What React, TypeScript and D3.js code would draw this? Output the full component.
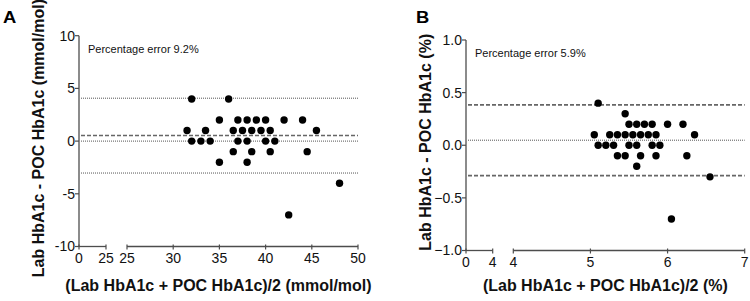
import React from "react";
import * as d3 from "d3";

// Panel A data (mmol/mol)
const aMean = [31.5, 32, 32, 33, 33.5, 34, 35, 35, 36, 36.5, 36.5, 37, 37, 37.5, 38, 38, 38, 38.5, 38.5, 39, 39.5, 40, 40, 40.5, 40.5, 41, 42, 42.5, 44, 44.5, 45.5, 48];
const aDiff = [1, 4, 0, 0, 1, 0, 2, -2, 4, 1, -1, 2, 0, 1, 2, 0, -2, 1, -1, 2, 1, 2, 0, 1, -1, 0, 2, -7, 2, -1, 1, -4];
const aLines = [4.07, 0, -3.03];
const aMeanLine = 0.53;
const aYTicks = [10, 5, 0, -5, -10];
const aXTicks1 = [0, 25];
const aXTicks2 = [25, 30, 35, 40, 45, 50];

// Panel B data (%)
const bMean = [5.1, 5.45, 5.5, 5.6, 5.7, 5.8, 6.0, 6.2, 5.05, 5.25, 5.35, 5.45, 5.55, 5.65, 5.75, 5.85, 6.35, 5.1, 5.2, 5.3, 5.5, 5.6, 5.8, 5.9, 5.35, 5.45, 5.65, 5.85, 6.25, 5.6, 6.55, 6.05];
const bDiff = [0.4, 0.3, 0.2, 0.2, 0.2, 0.2, 0.2, 0.2, 0.1, 0.1, 0.1, 0.1, 0.1, 0.1, 0.1, 0.1, 0.1, 0, 0, 0, 0, 0, 0, 0, -0.1, -0.1, -0.1, -0.1, -0.1, -0.2, -0.3, -0.7];
const bLimits = [0.384, -0.289];
const bMeanLine = 0.048;
const bYTicks = [1.0, 0.5, 0.0, -0.5, -1.0];
const bXTicks1 = [0, 4];
const bXTicks2 = [4, 5, 6, 7];

const FONT = "'Liberation Sans', Arial, Helvetica, sans-serif";
const AX = "#4d4d4d";

type PanelProps = {
  label: string;
  labelX: number;
  x1: d3.ScaleLinear<number, number>;
  x2: d3.ScaleLinear<number, number>;
  y: d3.ScaleLinear<number, number>;
  xt1: number[];
  xt2: number[];
  yt: number[];
  yFmt: (v: number) => string;
  xs: number[];
  ys: number[];
  dotted: number[];
  dashed: number[];
  note: string;
  noteY: number;
  yTitle: string;
  yTitleX: number;
  xTitle: string;
};

function Panel(p: PanelProps) {
  const axisX = p.x1.range()[0];
  const [yBot, yTop] = p.y.range();
  const lineX0 = axisX + 2;
  const lineX1 = p.x2.range()[1];
  const cy = (yBot + yTop) / 2;
  const xTitleX = (p.x1.range()[0] + p.x2.range()[1]) / 2;
  return (
    <g>
      <text transform={`translate(${p.labelX},23) scale(1.15,1)`} fontFamily={FONT} fontWeight="bold" fontSize={16} fill="#000">{p.label}</text>
      {/* reference lines */}
      {p.dotted.map((v, i) => (
        <line key={"dt" + i} x1={lineX0} x2={lineX1} y1={p.y(v)} y2={p.y(v)} stroke="#555" strokeWidth={1} strokeDasharray="1,1" />
      ))}
      {p.dashed.map((v, i) => (
        <line key={"ds" + i} x1={lineX0} x2={lineX1} y1={p.y(v)} y2={p.y(v)} stroke="#666" strokeWidth={1.6} strokeDasharray="4,2" />
      ))}
      {/* y axis */}
      <line x1={axisX} x2={axisX} y1={yTop} y2={yBot} stroke={AX} strokeWidth={1.3} />
      {p.yt.map((v, i) => (
        <g key={"yt" + i}>
          <line x1={axisX - 4} x2={axisX} y1={p.y(v)} y2={p.y(v)} stroke={AX} strokeWidth={1.2} />
          <text x={axisX - 4} y={p.y(v)} dy="0.35em" textAnchor="end" fontFamily={FONT} fontSize={14} fill="#111">{p.yFmt(v)}</text>
        </g>
      ))}
      {/* x axis segment 1 */}
      <line x1={p.x1.range()[0]} x2={p.x1.range()[1]} y1={yBot} y2={yBot} stroke={AX} strokeWidth={1.3} />
      {p.xt1.map((v, i) => (
        <g key={"xa" + i}>
          <line x1={p.x1(v)} x2={p.x1(v)} y1={yBot - 2} y2={yBot + 3} stroke={AX} strokeWidth={1.2} />
          <text x={p.x1(v)} y={yBot + 16} textAnchor="middle" fontFamily={FONT} fontSize={14} fill="#111">{v}</text>
        </g>
      ))}
      {/* x axis segment 2 */}
      <line x1={p.x2.range()[0]} x2={p.x2.range()[1]} y1={yBot} y2={yBot} stroke={AX} strokeWidth={1.3} />
      {p.xt2.map((v, i) => (
        <g key={"xb" + i}>
          <line x1={p.x2(v)} x2={p.x2(v)} y1={yBot - 2} y2={yBot + 3} stroke={AX} strokeWidth={1.2} />
          <text x={p.x2(v)} y={yBot + 16} textAnchor="middle" fontFamily={FONT} fontSize={14} fill="#111">{v}</text>
        </g>
      ))}
      {/* points */}
      {p.xs.map((v, i) => (
        <circle key={"p" + i} cx={p.x2(v)} cy={p.y(p.ys[i])} r={3.7} fill="#000" />
      ))}
      <text x={axisX + 9} y={p.noteY} fontFamily={FONT} fontSize={11} fill="#111">{p.note}</text>
      <text transform={`translate(${p.yTitleX},${cy - 3}) rotate(-90)`} textAnchor="middle" fontFamily={FONT} fontWeight="bold" fontSize={16} fill="#111">{p.yTitle}</text>
      <text x={xTitleX} y={291} textAnchor="middle" fontFamily={FONT} fontWeight="bold" fontSize={16} fill="#111">{p.xTitle}</text>
    </g>
  );
}

export default function App() {
  const xA1 = d3.scaleLinear().domain([0, 25]).range([79, 106]);
  const xA2 = d3.scaleLinear().domain([25, 50]).range([127, 358]);
  const yA = d3.scaleLinear().domain([-10, 10]).range([246.5, 35.7]);
  const xB1 = d3.scaleLinear().domain([0, 4]).range([466, 492.7]);
  const xB2 = d3.scaleLinear().domain([4, 7]).range([513.3, 744.7]);
  const yB = d3.scaleLinear().domain([-1, 1]).range([250.5, 40]);
  return (
    <svg width={750} height={301} style={{ position: "absolute", left: 0, top: 0, background: "#fff" }}>
      <rect width={750} height={301} fill="#fff" />
      <Panel label="A" labelX={3} x1={xA1} x2={xA2} y={yA} xt1={aXTicks1} xt2={aXTicks2} yt={aYTicks}
        yFmt={(v) => String(v)} xs={aMean} ys={aDiff} dotted={aLines} dashed={[aMeanLine]}
        note="Percentage error 9.2%" noteY={53} yTitle="Lab HbA1c - POC HbA1c (mmol/mol)" yTitleX={44}
        xTitle="(Lab HbA1c + POC HbA1c)/2 (mmol/mol)" />
      <Panel label="B" labelX={416} x1={xB1} x2={xB2} y={yB} xt1={bXTicks1} xt2={bXTicks2} yt={bYTicks}
        yFmt={(v) => d3.format(".1f")(v)} xs={bMean} ys={bDiff} dotted={[bMeanLine]} dashed={bLimits}
        note="Percentage error 5.9%" noteY={57} yTitle="Lab HbA1c - POC HbA1c (%)" yTitleX={431}
        xTitle="(Lab HbA1c + POC HbA1c)/2 (%)" />
    </svg>
  );
}
